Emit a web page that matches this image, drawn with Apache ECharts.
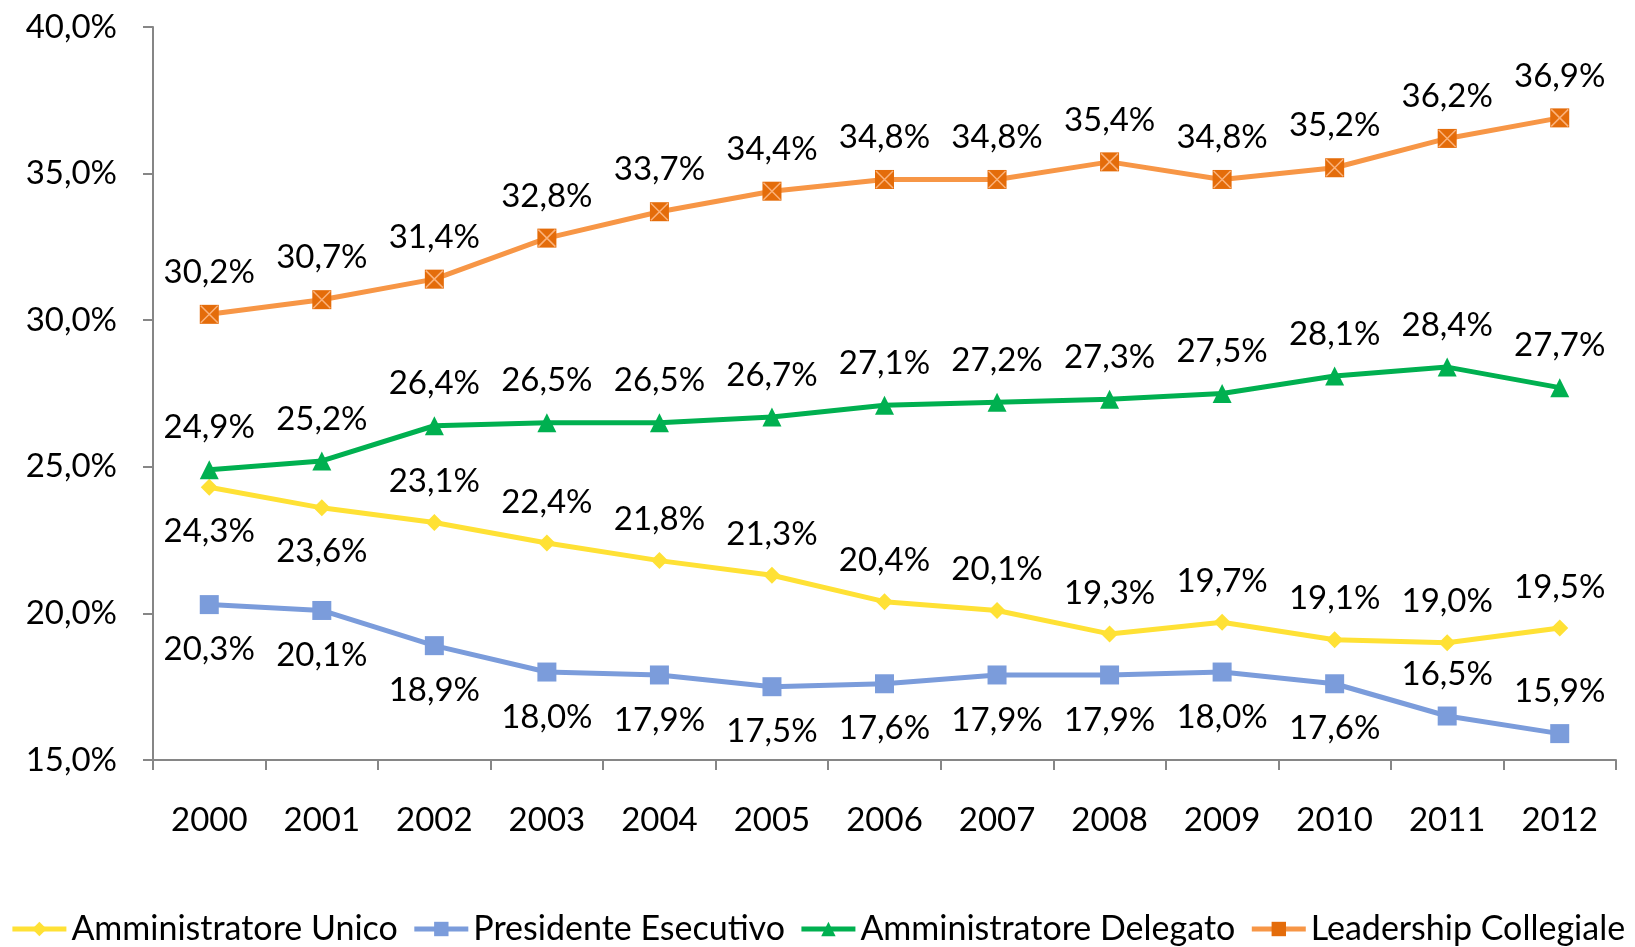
<!DOCTYPE html>
<html>
<head>
<meta charset="utf-8">
<script src="https://cdn.jsdelivr.net/npm/echarts@6/dist/echarts.min.js"></script>
<style>
  html, body { margin: 0; padding: 0; background: #fff; }
  #chart { width: 1635px; height: 947px; }
</style>
</head>
<body>
<div id="chart"></div>
<script>
let years = ['2000', '2001', '2002', '2003', '2004', '2005', '2006', '2007', '2008', '2009', '2010', '2011', '2012'];
let unico = [24.3, 23.6, 23.1, 22.4, 21.8, 21.3, 20.4, 20.1, 19.3, 19.7, 19.1, 19.0, 19.5];
let presidente = [20.3, 20.1, 18.9, 18.0, 17.9, 17.5, 17.6, 17.9, 17.9, 18.0, 17.6, 16.5, 15.9];
let delegato = [24.9, 25.2, 26.4, 26.5, 26.5, 26.7, 27.1, 27.2, 27.3, 27.5, 28.1, 28.4, 27.7];
let collegiale = [30.2, 30.7, 31.4, 32.8, 33.7, 34.4, 34.8, 34.8, 35.4, 34.8, 35.2, 36.2, 36.9];

// where each value label sits (layout only)
let unicoPos = ['bottom', 'bottom', 'top', 'top', 'top', 'top', 'top', 'top', 'top', 'top', 'top', 'top', 'top'];
let presidentePos = ['bottom', 'bottom', 'bottom', 'bottom', 'bottom', 'bottom', 'bottom', 'bottom', 'bottom', 'bottom', 'bottom', 'top', 'top'];

let font = 'Lato, "Open Sans", sans-serif';
let pct = v => v.toFixed(1).replace('.', ',') + '%';

let myChart = echarts.init(document.getElementById('chart'));

function lineSeries(name, data, color, symbol, size, pos, markerColor) {
    let items = data.map((v, i) => {
        let p = Array.isArray(pos) ? pos[i] : pos;
        return { value: v, label: { position: p, distance: p == 'top' ? 16 : 19 } };
    });
    return {
        name: name,
        type: 'line',
        data: items,
        symbol: symbol,
        symbolSize: size,
        lineStyle: { color: color, width: 5 },
        itemStyle: { color: markerColor || color },
        label: {
            show: true,
            color: '#000',
            fontFamily: font,
            fontSize: 33,
            formatter: p => pct(p.value)
        },
        z: 3
    };
}

let option = {
    animation: false,
    textStyle: { fontFamily: font },
    grid: { left: 153, right: 19, top: 27, bottom: 187 },
    legend: {
        bottom: 1,
        left: 'center',
        padding: 0,
        itemGap: 14,
        itemWidth: 54,
        itemHeight: 18,
        lineStyle: { width: 5 },
        textStyle: { fontSize: 34, color: '#000', fontFamily: font },
        data: ['Amministratore Unico', 'Presidente Esecutivo', 'Amministratore Delegato', 'Leadership Collegiale']
    },
    xAxis: {
        type: 'category',
        data: years,
        boundaryGap: true,
        axisLine: { lineStyle: { color: '#868686', width: 2 } },
        axisTick: { show: true, length: 10, inside: false, lineStyle: { color: '#868686', width: 2 } },
        axisLabel: { color: '#000', fontSize: 33, margin: 44, fontFamily: font }
    },
    yAxis: {
        type: 'value',
        min: 15,
        max: 40,
        interval: 5,
        splitLine: { show: false },
        axisLine: { show: true, lineStyle: { color: '#868686', width: 2 } },
        axisTick: { show: true, length: 10, lineStyle: { color: '#868686', width: 2 } },
        axisLabel: { color: '#000', fontSize: 33, margin: 36, fontFamily: font, formatter: v => pct(v) }
    },
    series: [
        lineSeries('Amministratore Unico', unico, '#FFE135', 'diamond', 17, unicoPos),
        lineSeries('Presidente Esecutivo', presidente, '#7B9CDB', 'rect', 19, presidentePos),
        lineSeries('Amministratore Delegato', delegato, '#00B050', 'triangle', 19, 'top'),
        lineSeries('Leadership Collegiale', collegiale, '#F79646', 'rect', 19, 'top', '#E46C0A'),
        {
            // X mark inside the orange squares
            name: 'Leadership Collegiale',
            type: 'line',
            data: collegiale,
            symbol: 'path://M0,0 L10,10 M10,0 L0,10',
            symbolSize: 17,
            lineStyle: { opacity: 0 },
            itemStyle: { color: 'none', borderColor: '#FBB27A', borderWidth: 1.5 },
            silent: true,
            z: 4
        }
    ]
};
myChart.setOption(option, true);
</script>
</body>
</html>
